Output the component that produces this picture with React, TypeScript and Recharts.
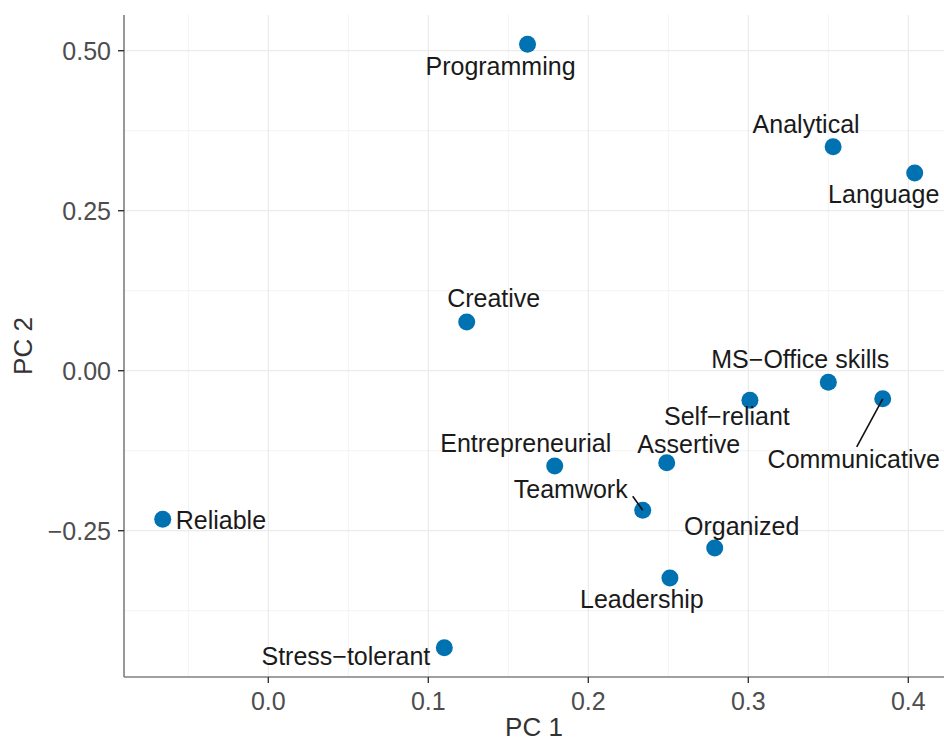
import { ScatterChart, Scatter, XAxis, YAxis, CartesianGrid } from "recharts"

// PCA loadings of the skill items (first two components)
const skills = [
  "Programming",
  "Analytical",
  "Language",
  "Creative",
  "MS\u2212Office skills",
  "Self\u2212reliant",
  "Communicative",
  "Entrepreneurial",
  "Assertive",
  "Teamwork",
  "Organized",
  "Leadership",
  "Reliable",
  "Stress\u2212tolerant",
]
const pc1 = [0.162, 0.353, 0.404, 0.124, 0.350, 0.301, 0.384, 0.179, 0.249, 0.234, 0.279, 0.251, -0.066, 0.110]
const pc2 = [0.510, 0.350, 0.309, 0.076, -0.018, -0.046, -0.044, -0.149, -0.144, -0.218, -0.277, -0.324, -0.232, -0.433]

const xTicks = [0, 0.1, 0.2, 0.3, 0.4]
const yTicks = [-0.25, 0, 0.25, 0.5]
const xMinor = [-0.05, 0.05, 0.15, 0.25, 0.35]
const yMinor = [-0.375, -0.125, 0.125, 0.375]

// hand placed (repel-style) label offsets in px, relative to each point
const labelPlacement: Record<string, { dx: number; dy: number; anchor?: string; seg?: [number, number] }> = {
  Programming: { dx: -27, dy: 31 },
  Analytical: { dx: -27, dy: -14 },
  Language: { dx: -31, dy: 30 },
  Creative: { dx: 27, dy: -15 },
  "MS\u2212Office skills": { dx: -28, dy: -14 },
  "Self\u2212reliant": { dx: -23, dy: 25 },
  Communicative: { dx: -29, dy: 69, seg: [-26, 48] },
  Entrepreneurial: { dx: -29, dy: -14 },
  Assertive: { dx: 22, dy: -10 },
  Teamwork: { dx: -72, dy: -12, seg: [-10, -14] },
  Organized: { dx: 27, dy: -13 },
  Leadership: { dx: -28, dy: 30 },
  Reliable: { dx: 13, dy: 10, anchor: "start" },
  "Stress\u2212tolerant": { dx: -14, dy: 17, anchor: "end" },
}

const data = skills.map((name, i) => ({ name, pc1: pc1[i], pc2: pc2[i] }))

const FONT = "'Liberation Sans', Arial, Helvetica, sans-serif"
const POINT_COLOR = "#0072B2"

const fmtMinus = (s: string) => s.replace("-", "\u2212")

function Dot(props: any) {
  const { cx, cy } = props
  if (cx == null || cy == null) return null
  return <circle cx={cx} cy={cy} r={8.5} fill={POINT_COLOR} />
}

function PointLabel(props: any) {
  const { cx, cy, payload } = props
  if (cx == null || cy == null) return null
  const p = labelPlacement[payload.name] ?? { dx: 0, dy: -12 }
  return (
    <g>
      {p.seg && (
        <line x1={cx} y1={cy} x2={cx + p.seg[0]} y2={cy + p.seg[1]} stroke="#111" strokeWidth={1.6} />
      )}
      <text
        x={cx + p.dx}
        y={cy + p.dy}
        textAnchor={p.anchor ?? "middle"}
        fontSize={25}
        fontFamily={FONT}
        fill="#1a1a1a"
      >
        {payload.name}
      </text>
    </g>
  )
}

function YTitle({ viewBox }: any) {
  const cx = viewBox.x + 32
  const cy = viewBox.y + viewBox.height / 2
  return (
    <text
      transform={`translate(${cx}, ${cy}) rotate(-90)`}
      textAnchor="middle"
      fontSize={26}
      fontFamily={FONT}
      fill="#333"
    >
      PC 2
    </text>
  )
}

function XTitle({ viewBox }: any) {
  return (
    <text
      x={viewBox.x + viewBox.width / 2}
      y={736}
      textAnchor="middle"
      fontSize={26}
      fontFamily={FONT}
      fill="#333"
    >
      PC 1
    </text>
  )
}

export default function App() {
  return (
    <div style={{ position: "absolute", left: 0, top: 0, background: "#fff" }}>
      <ScatterChart
        width={944}
        height={741}
        margin={{ top: 15, right: 0, bottom: 0, left: 0 }}
        style={{ fontFamily: FONT }}
      >
        <CartesianGrid
          stroke="#f3f3f3"
          strokeWidth={1}
          verticalValues={xMinor}
          horizontalValues={yMinor}
        />
        <CartesianGrid
          stroke="#ebebeb"
          strokeWidth={1.2}
          verticalValues={xTicks}
          horizontalValues={yTicks}
        />
        <XAxis
          type="number"
          dataKey="pc1"
          domain={[-0.0902, 0.4223]}
          allowDataOverflow
          ticks={xTicks}
          tickFormatter={(v: number) => fmtMinus(v.toFixed(1))}
          height={64}
          tickSize={6}
          tickMargin={9}
          axisLine={{ stroke: "#7f7f7f", strokeWidth: 1.6 }}
          tickLine={{ stroke: "#333", strokeWidth: 1.4 }}
          tick={{ fontSize: 25, fill: "#4d4d4d", fontFamily: FONT }}
          label={<XTitle />}
        />
        <YAxis
          type="number"
          dataKey="pc2"
          domain={[-0.4786, 0.5558]}
          allowDataOverflow
          ticks={yTicks}
          tickFormatter={(v: number) => fmtMinus(v.toFixed(2))}
          width={124}
          tickSize={6}
          tickMargin={7}
          axisLine={{ stroke: "#7f7f7f", strokeWidth: 1.6 }}
          tickLine={{ stroke: "#333", strokeWidth: 1.4 }}
          tick={{ fontSize: 25, fill: "#4d4d4d", fontFamily: FONT }}
          label={<YTitle />}
        />
        <Scatter data={data} shape={<Dot />} isAnimationActive={false} />
        <Scatter data={data} shape={<PointLabel />} isAnimationActive={false} legendType="none" />
      </ScatterChart>
    </div>
  )
}
